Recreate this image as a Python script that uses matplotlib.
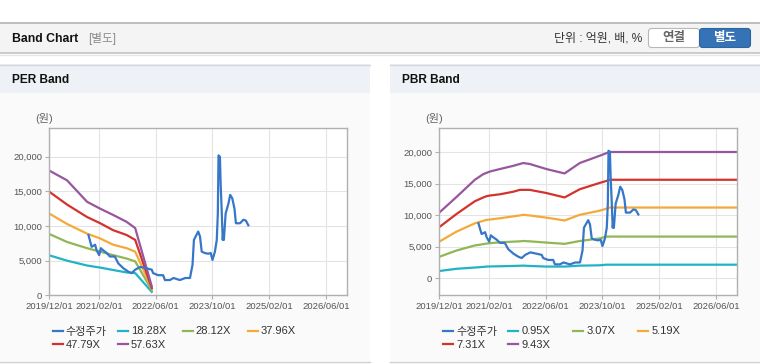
import matplotlib
matplotlib.use("Agg")
import matplotlib.pyplot as plt
import matplotlib.dates as mdates
from matplotlib.patches import Rectangle, FancyBboxPatch
from matplotlib.lines import Line2D
from matplotlib.transforms import Affine2D
from matplotlib.ticker import FuncFormatter
import numpy as np
import pandas as pd

plt.rcParams['font.family'] = ['Liberation Sans', 'Noto Sans CJK KR', 'DejaVu Sans']

W, H = 760, 364

# price (수정주가), shared by both charts
price_dates = ["2020-11-01", "2020-11-28", "2020-12-28", "2021-01-10", "2021-02-01", "2021-02-15",
               "2021-03-07", "2021-04-07", "2021-05-04", "2021-06-15", "2021-07-15", "2021-08-28",
               "2021-10-10", "2021-11-07", "2021-12-07", "2022-01-20", "2022-03-12", "2022-04-28",
               "2022-05-10", "2022-06-22", "2022-08-04", "2022-08-19", "2022-10-01", "2022-11-01",
               "2022-12-25", "2023-02-10", "2023-03-22", "2023-04-13", "2023-04-25", "2023-05-16",
               "2023-06-01", "2023-06-16", "2023-07-01", "2023-07-28", "2023-08-25", "2023-09-16",
               "2023-10-01", "2023-10-22", "2023-11-07", "2023-11-16", "2023-11-22", "2023-12-04",
               "2023-12-10", "2023-12-19", "2023-12-28", "2024-01-04", "2024-01-07", "2024-01-22",
               "2024-02-16", "2024-03-01", "2024-03-19", "2024-04-07", "2024-04-19", "2024-05-25",
               "2024-06-22", "2024-07-13", "2024-08-04"]
price = [8700, 7000, 7300, 6500, 5800, 6800, 6500, 6100, 5600, 5600, 4600, 3900,
         3400, 3200, 3700, 4100, 3900, 3700, 3200, 2900, 2900, 2200, 2200, 2500,
         2200, 2500, 2500, 4400, 8000, 8700, 9200, 8500, 6300, 6100, 6000, 6100,
         5100, 6300, 8000, 11800, 20200, 20000, 16200, 12300, 8000, 9400, 8000, 11800,
         13300, 14500, 14000, 12500, 10400, 10400, 10900, 10800, 10100]

# PER bands
per_dates = ["2019-12-01", "2020-05-01", "2020-10-20", "2021-02-10", "2021-06-01",
             "2021-09-25", "2021-12-07", "2022-04-28"]
per_labels = ["18.28X", "28.12X", "37.96X", "47.79X", "57.63X"]
per_1828 = [5770, 5000, 4300, 4000, 3650, 3300, 3200, 500]
per_2812 = [8850, 7700, 6800, 6300, 5800, 5300, 4900, 770]
per_3796 = [11800, 10300, 8900, 8200, 7300, 6800, 6300, 1000]
per_4779 = [14950, 13100, 11300, 10400, 9400, 8700, 8000, 1050]
per_5763 = [18000, 16600, 13500, 12500, 11600, 10600, 9700, 1300]

# PBR bands
pbr_dates = ["2019-12-01", "2020-04-28", "2020-10-01", "2020-12-13", "2021-01-10", "2021-02-06",
             "2021-05-04", "2021-08-25", "2021-10-22", "2021-11-19", "2022-01-15", "2022-06-07",
             "2022-11-10", "2023-03-20", "2023-09-07", "2023-11-01", "2023-12-01", "2026-12-01"]
pbr_labels = ["0.95X", "3.07X", "5.19X", "7.31X", "9.43X"]
pbr_095 = [1150, 1500, 1700, 1800, 1850, 1870, 1900, 1950, 1980, 2000, 1950, 1850,
           1850, 2000, 2050, 2150, 2150, 2150]
pbr_307 = [3400, 4400, 5200, 5400, 5500, 5550, 5700, 5800, 5850, 5900, 5850, 5650,
           5450, 5900, 6300, 6600, 6600, 6600]
pbr_519 = [5800, 7400, 8700, 9100, 9250, 9300, 9500, 9800, 9950, 10050, 9950, 9600,
           9150, 10050, 10700, 11000, 11200, 11200]
pbr_731 = [8100, 10200, 12200, 12800, 13000, 13100, 13300, 13700, 14000, 14000, 14000, 13500,
           12800, 14100, 15100, 15400, 15600, 15600]
pbr_943 = [10400, 12900, 15600, 16500, 16700, 16900, 17300, 17800, 18100, 18250, 18100, 17300,
           16600, 18250, 19400, 19800, 20000, 20000]

x_ticks = ["2019-12-01", "2021-02-01", "2022-06-01", "2023-10-01", "2025-02-01", "2026-06-01"]
y_ticks = [0, 5000, 10000, 15000, 20000]

price_label = "수정주가"
c_price = "#3677c9"
band_colors = ["#21b3c4", "#8fb755", "#f3aa3c", "#d2332d", "#98569f"]

fig = plt.figure(figsize=(W / 100, H / 100), dpi=100)
fig.patch.set_facecolor("white")
# pixel coords, origin at top-left
px = Affine2D().scale(1, -1).translate(0, H).scale(1 / W, 1 / H) + fig.transFigure


def rect(x, y, w, h, fc, ec="none", lw=0, z=-2):
    fig.patches.append(Rectangle((x, y), w, h, transform=px, facecolor=fc,
                                 edgecolor=ec, linewidth=lw, zorder=z))


def hline(x0, x1, y, color, lw=1.0):
    fig.add_artist(Line2D([x0, x1], [y, y], transform=px, color=color, linewidth=lw, zorder=-1))


# top header bar
rect(0, 22, W, 31, "#f4f4f4")
hline(0, W, 22.5, "#b4b4b4", 1.2)
hline(0, W, 53, "#c4c4c4", 1.2)
hline(0, W, 54.5, "#e6e6e6", 1.0)
fig.text(12, 38.5, "Band Chart", transform=px, fontsize=8.8, fontweight="bold",
         color="#111111", va="center", ha="left")
fig.text(88, 38.5, "[별도]", transform=px, fontsize=8.4, color="#8a8a8a", va="center", ha="left")
fig.text(642, 38.5, "단위 : 억원, 배, %", transform=px, fontsize=8.6, color="#333333",
         va="center", ha="right")
fig.patches.append(FancyBboxPatch((648.5, 28.5), 51, 19, boxstyle="round,pad=0,rounding_size=3",
                                  transform=px, facecolor="white", edgecolor="#b8b8b8", linewidth=0.8))
fig.patches.append(FancyBboxPatch((699.5, 28.5), 51, 19, boxstyle="round,pad=0,rounding_size=3",
                                  transform=px, facecolor="#3572b6", edgecolor="#2f64a3", linewidth=0.8))
fig.text(674, 38.5, "연결", transform=px, fontsize=9, fontweight="bold", color="#666666",
         va="center", ha="center")
fig.text(725, 38.5, "별도", transform=px, fontsize=9, fontweight="bold", color="white",
         va="center", ha="center")

# panels
for x0, x1, title in [(0, 370, "PER Band"), (390, 760, "PBR Band")]:
    rect(x0, 93, x1 - x0, 268, "#fafafa")
    rect(x0, 64, x1 - x0, 29, "#eef2f7")
    hline(x0, x1, 64.5, "#d4d8de", 1.0)
    hline(x0, x1, 361.5, "#d0d0d0", 1.0)
    fig.text(x0 + 12, 80, title, transform=px, fontsize=8.6, fontweight="bold",
             color="#111111", va="center", ha="left")


def setup_axes(ax, ylim):
    ax.set_facecolor("white")
    ax.set_xlim(pd.Timestamp("2019-12-01"), pd.Timestamp("2026-12-01"))
    ax.set_ylim(*ylim)
    ax.set_xticks(pd.to_datetime(x_ticks))
    ax.xaxis.set_major_formatter(mdates.DateFormatter("%Y/%m/%d"))
    ax.set_yticks(y_ticks)
    ax.yaxis.set_major_formatter(FuncFormatter(lambda v, p: f"{int(v):,}"))
    ax.grid(True, color="#e4e4e4", linewidth=0.8)
    ax.set_axisbelow(True)
    for s in ax.spines.values():
        s.set_color("#b0b0b0")
        s.set_linewidth(1.0)
    ax.tick_params(colors="#b0b0b0", labelcolor="#555555", labelsize=6.8, length=3, width=0.8, pad=2)


def band_plot(ax, dates, bands):
    for vals, c in zip(bands, band_colors):
        ax.plot(pd.to_datetime(dates), vals, color=c, linewidth=1.6, zorder=2)
    ax.plot(pd.to_datetime(price_dates), price, color=c_price, linewidth=1.6, zorder=3)


def legend(x0, labels):
    items = [(price_label, c_price)] + list(zip(labels, band_colors))
    for i, (lab, c) in enumerate(items):
        col, row = i % 4, i // 4
        x = x0 + col * 65
        y = 331 + row * 13
        fig.add_artist(Line2D([x, x + 10], [y, y], transform=px, color=c, linewidth=1.6))
        fig.text(x + 13, y + 0.5, lab, transform=px, fontsize=8, color="#333333",
                 va="center", ha="left")


ax1 = fig.add_axes([49.3 / W, 1 - 295.3 / H, 298 / W, 167.3 / H])
setup_axes(ax1, (0, 24150))
band_plot(ax1, per_dates, [per_1828, per_2812, per_3796, per_4779, per_5763])
fig.text(44, 118, "(원)", transform=px, fontsize=8, color="#666666", va="center", ha="center")
legend(52.7, per_labels)

ax2 = fig.add_axes([439.3 / W, 1 - 295.3 / H, 298 / W, 167.3 / H])
setup_axes(ax2, (-2700, 23800))
band_plot(ax2, pbr_dates, [pbr_095, pbr_307, pbr_519, pbr_731, pbr_943])
fig.text(434, 118, "(원)", transform=px, fontsize=8, color="#666666", va="center", ha="center")
legend(443.3, pbr_labels)

fig.savefig("out.png", dpi=100)
